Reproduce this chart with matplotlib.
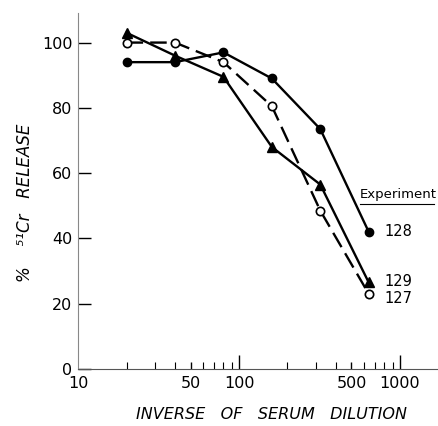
import matplotlib
matplotlib.use("Agg")
import matplotlib.pyplot as plt
from matplotlib.ticker import FixedLocator, NullFormatter

plt.rcParams['font.family'] = ['DejaVu Sans']

dilution = [20, 40, 80, 160, 320, 640]
exp128 = [94, 94, 97, 89, 73.5, 42]
exp129 = [103, 96, 89.5, 68, 56.5, 26.5]
exp127 = [100, 100, 94, 80.5, 48.5, 23]
series_labels = ["128", "129", "127"]
x_tick_labels = ["10", "50", "100", "500", "1000"]
x_tick_values = [10, 50, 100, 500, 1000]
y_ticks = [0, 20, 40, 60, 80, 100]

fig = plt.figure(figsize=(4.39, 4.26), dpi=100)
ax = fig.add_axes([0.178, 0.134, 0.822, 0.835])

ax.plot(dilution, exp128, '-', color='black', lw=1.7, marker='o', ms=6,
        mfc='black', mec='black', zorder=3)
ax.plot(dilution, exp129, '-', color='black', lw=1.7, marker='^', ms=6.5,
        mfc='black', mec='black', zorder=3)
ax.plot(dilution, exp127, '--', color='black', lw=1.7, dashes=(7, 3), marker='o', ms=6,
        mfc='white', mec='black', mew=1.2, zorder=4)

ax.set_xscale('log')
ax.set_xlim(10, 1750)
ax.set_ylim(0, 109)

ax.spines['top'].set_visible(False)
ax.spines['right'].set_visible(False)
ax.spines['left'].set_color('#888888')
ax.spines['bottom'].set_color('#555555')

ax.xaxis.set_major_locator(FixedLocator(x_tick_values))
ax.set_xticklabels(x_tick_labels, fontsize=11.5)
ax.xaxis.set_minor_locator(FixedLocator([20, 30, 40, 60, 70, 80, 90,
                                         200, 300, 400, 600, 700, 800, 900]))
ax.xaxis.set_minor_formatter(NullFormatter())
ax.tick_params(axis='x', which='major', direction='in', length=5, width=1, pad=5)
ax.tick_params(axis='x', which='minor', direction='in', length=5, width=0.8)
for t, v in zip(ax.xaxis.get_major_ticks(), x_tick_values):
    if v == 10:
        t.tick1line.set_markersize(0)
    elif v in (100, 1000):
        t.tick1line.set_markersize(10)

ax.set_yticks(y_ticks)
ax.set_yticklabels([str(v) for v in y_ticks], fontsize=11.5)
ax.tick_params(axis='y', direction='in', length=9, width=1, pad=4)

ax.set_xlabel('INVERSE   OF   SERUM   DILUTION', fontsize=11.5, style='italic')
ax.xaxis.set_label_coords((271 - 78) / 361, (369 - 415) / 356)
ax.xaxis.label.set_va('center')
ax.set_ylabel('%    ⁵¹Cr   RELEASE', fontsize=12, style='italic')
ax.yaxis.set_label_coords((25 - 78) / 361, (369 - 203) / 356)
ax.yaxis.label.set_va('center')

# series labels at end of lines
label_y = [exp128[-1], exp129[-1] + 0.3, exp127[-1] - 1.3]
for lab, yv in zip(series_labels, label_y):
    ax.annotate(lab, xy=(dilution[-1], yv), xytext=(11, 0),
                textcoords='offset points', va='center', ha='left', fontsize=10.5)

ax.text((360 - 78) / 361, (369 - 194) / 356, 'Experiment', transform=ax.transAxes,
        fontsize=9.5, ha='left', va='center')
ax.plot([(360 - 78) / 361, (434 - 78) / 361], [(369 - 204) / 356] * 2,
        transform=ax.transAxes, color='black', lw=0.8, clip_on=False)

fig.savefig('out.png', dpi=100)
